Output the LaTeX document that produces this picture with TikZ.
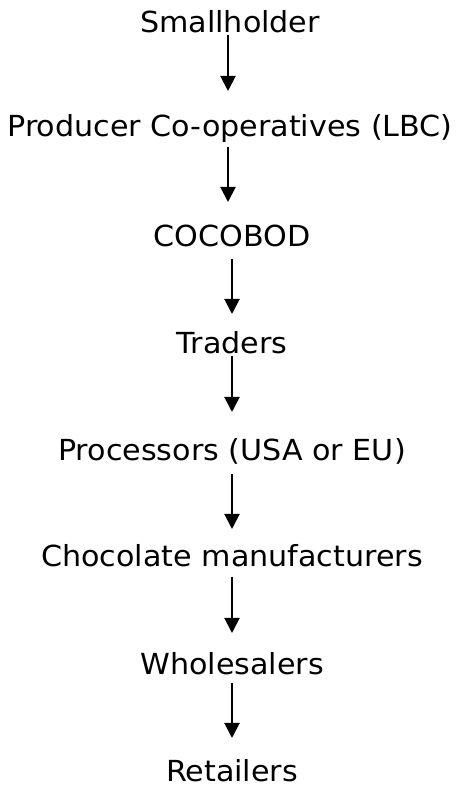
\documentclass[tikz,border=0pt]{standalone}
\usepackage{fontspec}
\setmainfont[FakeStretch=1.04]{DejaVu Sans}
\usetikzlibrary{arrows.meta}
\tikzset{
  lbl/.style={anchor=base, inner sep=0pt, font=\fontsize{29}{31}\selectfont},
  arr/.style={line width=2pt, -{Triangle[length=15pt,width=15pt]}}
}
\begin{document}
\begin{tikzpicture}[x=1pt,y=1pt]
\useasboundingbox (0,0) rectangle (456,788);
\node[lbl] (sh) at (230,755) {Smallholder};
\node[lbl] (pc) at (230,651) {Producer Co-operatives (LBC)};
\node[lbl] (cb) at (232,541) {COCOBOD};
\node[lbl] (tr) at (232,434) {Traders};
\node[lbl] (pr) at (232,327) {Processors (USA or EU)};
\node[lbl] (cm) at (232,221) {Chocolate manufacturers};
\node[lbl] (wh) at (232,113) {Wholesalers};
\node[lbl] (re) at (232,6) {Retailers};
\draw[arr] ([xshift=-2pt,yshift=-2pt]sh.base) -- ([xshift=-2pt,yshift=46pt]pc.base);
\draw[arr] ([xshift=-2pt,yshift=-10pt]pc.base) -- ([xshift=-4pt,yshift=45pt]cb.base);
\draw[arr] ([yshift=-12pt]cb.base) -- ([yshift=40pt]tr.base);
\draw[arr] ([yshift=-2pt]tr.base) -- ([yshift=49pt]pr.base);
\draw[arr] ([yshift=-13pt]pr.base) -- ([yshift=38pt]cm.base);
\draw[arr] ([yshift=-10pt]cm.base) -- ([yshift=42pt]wh.base);
\draw[arr] ([yshift=-8pt]wh.base) -- ([yshift=44pt]re.base);
\end{tikzpicture}
\end{document}
